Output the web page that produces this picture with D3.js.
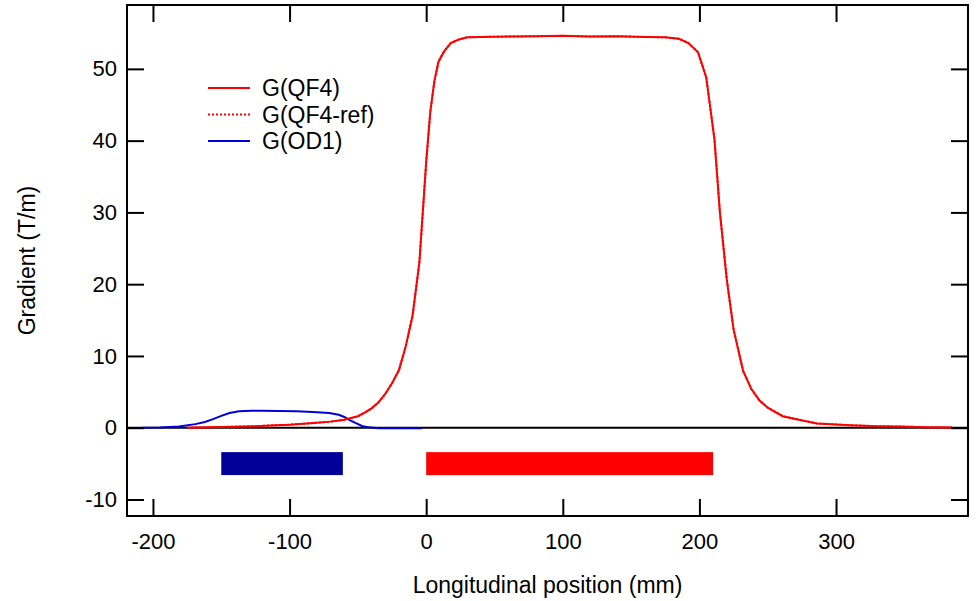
<!DOCTYPE html>
<html>
<head>
<meta charset="utf-8">
<script src="https://cdn.jsdelivr.net/npm/d3@7.9.0/dist/d3.min.js"></script>
<style>
  body { margin: 0; background: #fff; }
  svg { display: block; font-family: "Liberation Sans", Arial, sans-serif; }
</style>
</head>
<body>
<svg id="chart" width="976" height="601"></svg>
<script>
// Longitudinal positions (mm) and gradients (T/m)
const qf4Z = [-175, -160, -150, -140, -125, -110, -100, -90, -80, -70, -60, -50, -45, -40, -35, -30, -25, -20, -15, -10, -5, 0, 3, 6, 9, 13, 18, 24, 30, 40, 60, 80, 100, 120, 140, 160, 175, 185, 192, 199, 205, 211, 215, 220, 225, 232, 238, 244, 250, 261, 273, 286, 300, 310, 330, 346, 365, 385];
const qf4G = [0, 0.05, 0.1, 0.15, 0.22, 0.35, 0.42, 0.55, 0.7, 0.85, 1.1, 1.6, 2.1, 2.7, 3.5, 4.7, 6.2, 8.0, 11.3, 15.6, 23, 37, 44, 48.3, 51, 52.4, 53.6, 54.1, 54.4, 54.45, 54.5, 54.55, 54.6, 54.5, 54.55, 54.45, 54.4, 54.2, 53.6, 52.3, 48.8, 40.2, 30.0, 20.7, 13.7, 7.9, 5.4, 3.8, 2.8, 1.6, 1.1, 0.6, 0.45, 0.35, 0.22, 0.17, 0.08, 0.03];
// reference measurement lies on top of G(QF4)
const qf4RefG = qf4G;

const od1Z = [-208, -195, -181, -169, -162, -156, -150, -144, -137, -128, -120, -108, -95, -83, -71, -64, -60, -56, -51, -47, -42, -35, -20, -3];
const od1G = [0, 0.03, 0.17, 0.5, 0.8, 1.2, 1.65, 2.05, 2.3, 2.38, 2.38, 2.33, 2.28, 2.18, 2.05, 1.8, 1.5, 1.05, 0.6, 0.25, 0.05, -0.07, -0.08, -0.07];

// Magnet extents (mm)
const magnetNames = ['OD1', 'QF4'];
const magnetStart = [-150, 0];
const magnetEnd = [-61, 210];

const xTicks = [-200, -100, 0, 100, 200, 300];
const yTicks = [-10, 0, 10, 20, 30, 40, 50];

const legendLabels = ['G(QF4)', 'G(QF4-ref)', 'G(OD1)'];

// Layout
const plotLeft = 127, plotRight = 968, plotTop = 5, plotBottom = 516;
const tickLen = 17;

const svg = d3.select('#chart');

const x = d3.scaleLinear().domain([-219, 396.6]).range([plotLeft, plotRight]);
const y = d3.scaleLinear().domain([-12.3, 58.9]).range([plotBottom, plotTop]);

// zero line
svg.append('line')
  .attr('x1', plotLeft).attr('x2', plotRight)
  .attr('y1', y(0)).attr('y2', y(0))
  .attr('stroke', '#000').attr('stroke-width', 2);

// magnet bars under the axis
const barColors = { OD1: '#000099', QF4: '#ff0000' };
svg.selectAll('rect.magnet')
  .data(magnetNames.map((n, i) => ({ name: n, start: magnetStart[i], end: magnetEnd[i] })))
  .join('rect')
  .attr('class', 'magnet')
  .attr('x', d => x(d.start))
  .attr('width', d => x(d.end) - x(d.start))
  .attr('y', y(-3.4))
  .attr('height', y(-6.6) - y(-3.4))
  .attr('fill', d => barColors[d.name]);

// curves
const line = d3.line().x(d => x(d[0])).y(d => y(d[1]));

svg.append('path')
  .datum(d3.zip(od1Z, od1G))
  .attr('d', line)
  .attr('fill', 'none').attr('stroke', '#0000dd').attr('stroke-width', 2);

svg.append('path')
  .datum(d3.zip(qf4Z, qf4RefG))
  .attr('d', line)
  .attr('fill', 'none').attr('stroke', '#ff0000').attr('stroke-width', 2)
  .attr('stroke-dasharray', '2,2');

svg.append('path')
  .datum(d3.zip(qf4Z, qf4G))
  .attr('d', line)
  .attr('fill', 'none').attr('stroke', '#ff0000').attr('stroke-width', 2);

// axes, ticks pointing inward on all four sides (plain hyphen for negatives)
const fmt = d => String(d);
const axisBottom = svg.append('g')
  .attr('transform', `translate(0,${plotBottom})`)
  .call(d3.axisBottom(x).tickValues(xTicks).tickFormat(fmt).tickSize(-tickLen).tickPadding(17));
const axisTop = svg.append('g')
  .attr('transform', `translate(0,${plotTop})`)
  .call(d3.axisTop(x).tickValues(xTicks).tickSize(-tickLen).tickFormat(''));
const axisLeft = svg.append('g')
  .attr('transform', `translate(${plotLeft},0)`)
  .call(d3.axisLeft(y).tickValues(yTicks).tickFormat(fmt).tickSize(-tickLen).tickPadding(10));
const axisRight = svg.append('g')
  .attr('transform', `translate(${plotRight},0)`)
  .call(d3.axisRight(y).tickValues(yTicks).tickSize(-tickLen).tickFormat(''));

[axisBottom, axisTop, axisLeft, axisRight].forEach(g => {
  g.select('.domain').remove();
  g.selectAll('line').attr('stroke', '#000').attr('stroke-width', 2);
  g.selectAll('text')
    .attr('font-family', '"Liberation Sans", Arial, sans-serif')
    .attr('font-size', 22)
    .attr('fill', '#000');
});

// frame
svg.append('rect')
  .attr('x', plotLeft).attr('y', plotTop)
  .attr('width', plotRight - plotLeft).attr('height', plotBottom - plotTop)
  .attr('fill', 'none').attr('stroke', '#000').attr('stroke-width', 2);

// axis titles
svg.append('text')
  .attr('x', (plotLeft + plotRight) / 2).attr('y', 593)
  .attr('text-anchor', 'middle')
  .attr('font-size', 23)
  .text('Longitudinal position (mm)');

svg.append('text')
  .attr('transform', `translate(35,${(plotTop + plotBottom) / 2}) rotate(-90)`)
  .attr('text-anchor', 'middle')
  .attr('font-size', 23)
  .text('Gradient (T/m)');

// legend
const legendStyles = [
  { color: '#ff0000', dash: null },
  { color: '#ff0000', dash: '2,2' },
  { color: '#0000dd', dash: null }
];
const legend = svg.append('g');
legendLabels.forEach((label, i) => {
  const ly = 88 + i * 26.5;
  legend.append('line')
    .attr('x1', 208).attr('x2', 250)
    .attr('y1', ly).attr('y2', ly)
    .attr('stroke', legendStyles[i].color).attr('stroke-width', 2)
    .attr('stroke-dasharray', legendStyles[i].dash);
  legend.append('text')
    .attr('x', 262).attr('y', ly)
    .attr('dy', '0.35em')
    .attr('font-size', 23)
    .text(label);
});
</script>
</body>
</html>
